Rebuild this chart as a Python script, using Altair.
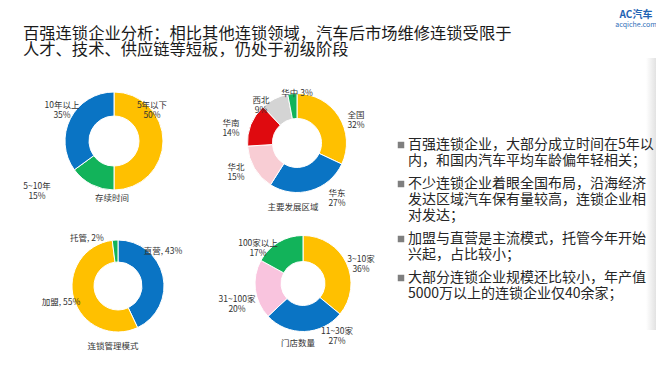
import altair as alt
import pandas as pd

FONT = "Noto Sans CJK SC"

# ---------------- data ----------------
title_lines = [
    "百强连锁企业分析：相比其他连锁领域，汽车后市场维修连锁受限于",
    "人才、技术、供应链等短板，仍处于初级阶段",
]

dur_cats = ["5年以下", "5~10年", "10年以上"]
dur_vals = [50, 15, 35]
dur_colors = ["#FFC000", "#12B35A", "#0A74C4"]
dur_caption = "存续时间"

reg_cats = ["全国", "华东", "华北", "华南", "西北", "华中"]
reg_vals = [32, 27, 15, 14, 9, 3]
reg_colors = ["#FFC000", "#0A74C4", "#F8CDD4", "#DF0A0F", "#D4D4D4", "#12B35A"]
reg_caption = "主要发展区域"

mgmt_cats = ["直营", "加盟", "托管"]
mgmt_vals = [43, 55, 2]
mgmt_colors = ["#0A74C4", "#FFC000", "#12B35A"]
mgmt_caption = "连锁管理模式"

store_cats = ["3~10家", "11~30家", "31~100家", "100家以上"]
store_vals = [36, 27, 20, 17]
store_colors = ["#FFC000", "#0A74C4", "#F9C4DE", "#12B35A"]
store_caption = "门店数量"

bullets = [
    ["百强连锁企业，大部分成立时间在5年以", "内，和国内汽车平均车龄偏年轻相关；"],
    ["不少连锁企业着眼全国布局，沿海经济", "发达区域汽车保有量较高，连锁企业相", "对发达；"],
    ["加盟与直营是主流模式，托管今年开始", "兴起，占比较小；"],
    ["大部分连锁企业规模还比较小，年产值", "5000万以上的连锁企业仅40余家；"],
]

logo_main = "AC汽车"
logo_sub = "acqiche.com"

# ---------------- layout (pixels inside the chart) ----------------
W, H = 648, 364
donut_layouts = [
    dict(cats=dur_cats, vals=dur_vals, colors=dur_colors, caption=dur_caption,
         c=(106, 133), r=49, r2=25, cap=(104, 190),
         labels=[(144, 97, "\n"), (29, 178, "\n"), (54, 97, "\n")]),
    dict(cats=reg_cats, vals=reg_vals, colors=reg_colors, caption=reg_caption,
         c=(289, 135), r=49.5, r2=24.5, cap=(285, 199),
         labels=[(348, 107, "\n"), (329, 185, "\n"), (228, 159, "\n"),
                 (223, 115, "\n"), (253, 92, "\n"), (289, 85, " ")]),
    dict(cats=mgmt_cats, vals=mgmt_vals, colors=mgmt_colors, caption=mgmt_caption,
         c=(110, 278), r=46, r2=24, cap=(105, 338),
         labels=[(155, 243, ", "), (53, 294, ", "), (79, 230, ", ")]),
    dict(cats=store_cats, vals=store_vals, colors=store_colors, caption=store_caption,
         c=(295, 275.5), r=48, r2=22, cap=(290, 335),
         labels=[(353, 251, "\n"), (329, 323, "\n"), (229, 291, "\n"), (250, 235, "\n")]),
]

layers = []

# right-edge soft shadow band
layers.append(
    alt.Chart(pd.DataFrame({"k": [0]})).mark_rect(
        fill=alt.Gradient(gradient="linear", x1=0, x2=1, y1=0, y2=0,
                          stops=[alt.GradientStop(color="#ffffff", offset=0),
                                 alt.GradientStop(color="#e2e2e2", offset=1)])
    ).encode(x=alt.value(638), x2=alt.value(648), y=alt.value(50), y2=alt.value(322))
)

for d in donut_layouts:
    n = len(d["cats"])
    df = pd.DataFrame({"cat": d["cats"], "value": d["vals"],
                       "color": d["colors"], "idx": list(range(n))})
    arc = alt.Chart(df).mark_arc(
        radius=d["r"], radius2=d["r2"], stroke="white", strokeWidth=1
    ).encode(
        theta=alt.Theta("value:Q", stack=True),
        order=alt.Order("idx:Q", sort="ascending"),
        color=alt.Color("color:N", scale=None),
        x=alt.value(d["c"][0]),
        y=alt.value(d["c"][1]),
    )
    lab = pd.DataFrame({
        "label": [f"{c}{s}{v}%" for c, v, (_, _, s) in zip(d["cats"], d["vals"], d["labels"])],
        "lx": [p[0] for p in d["labels"]],
        "ly": [p[1] for p in d["labels"]],
    })
    text = alt.Chart(lab).mark_text(
        font=FONT, fontSize=8.5, lineBreak="\n", lineHeight=10, color="#333333",
        align="center", baseline="middle"
    ).encode(
        x=alt.X("lx:Q", scale=None, axis=None),
        y=alt.Y("ly:Q", scale=None, axis=None),
        text="label:N",
    )
    cap = alt.Chart(pd.DataFrame({"t": [d["caption"]]})).mark_text(
        font=FONT, fontSize=8.5, color="#333333", align="center", baseline="middle"
    ).encode(x=alt.value(d["cap"][0]), y=alt.value(d["cap"][1]), text="t:N")
    layers += [arc, text, cap]

# title (two lines)
title_df = pd.DataFrame({"t": title_lines, "ty": [26, 42]})
layers.append(
    alt.Chart(title_df).mark_text(
        font=FONT, fontSize=16.3, color="#1a1a1a", align="left", baseline="middle"
    ).encode(x=alt.value(15), y=alt.Y("ty:Q", scale=None, axis=None), text="t:N")
)

# logo
layers.append(
    alt.Chart(pd.DataFrame({"t": [logo_main]})).mark_text(
        font=FONT, fontSize=10, fontWeight="bold", color="#1F63B4",
        align="center", baseline="middle"
    ).encode(x=alt.value(628), y=alt.value(7), text="t:N")
)
layers.append(
    alt.Chart(pd.DataFrame({"t": [logo_sub]})).mark_text(
        font=FONT, fontSize=7, color="#2C6CB8", align="center", baseline="middle"
    ).encode(x=alt.value(628), y=alt.value(16.5), text="t:N")
)

# bullet text
line_h, gap = 16, 7
rows, squares = [], []
y = 137
for b in bullets:
    squares.append({"sx": 393, "sy": y})
    for ln in b:
        rows.append({"tx": 400, "ty": y, "t": ln})
        y += line_h
    y += gap
layers.append(
    alt.Chart(pd.DataFrame(squares)).mark_square(size=42, color="#7f7f7f", opacity=1).encode(
        x=alt.X("sx:Q", scale=None, axis=None), y=alt.Y("sy:Q", scale=None, axis=None)
    )
)
layers.append(
    alt.Chart(pd.DataFrame(rows)).mark_text(
        font=FONT, fontSize=14, color="#262626", align="left", baseline="middle"
    ).encode(
        x=alt.X("tx:Q", scale=None, axis=None),
        y=alt.Y("ty:Q", scale=None, axis=None),
        text="t:N",
    )
)

chart = alt.layer(*layers).resolve_scale(theta="independent").properties(
    width=W, height=H, autosize=alt.AutoSizeParams(type="none"), padding=0,
    background="white"
).configure_view(stroke=None)

chart.save("out.html", embed_options={"renderer": "svg", "actions": False})
